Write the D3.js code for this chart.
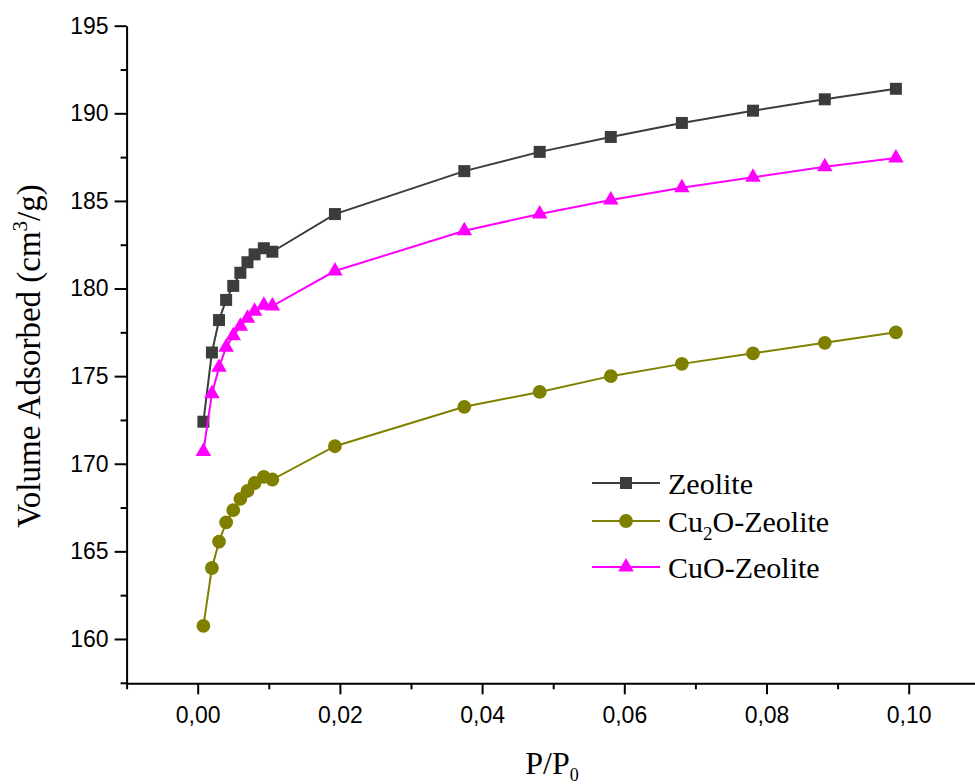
<!DOCTYPE html>
<html>
<head>
<meta charset="utf-8">
<script src="https://cdn.jsdelivr.net/npm/d3@7"></script>
<style>
  html, body { margin: 0; padding: 0; background: #fff; }
  svg { display: block; }
</style>
</head>
<body>
<div id="container"></div>
<script>
// data
const pressure = [0.0008, 0.002, 0.003, 0.004, 0.005, 0.006, 0.007, 0.008, 0.0093, 0.0105,
                  0.0193, 0.0375, 0.0481, 0.0581, 0.0681, 0.0781, 0.0882, 0.0982];
const zeolite = [172.4, 176.35, 178.2, 179.35, 180.15, 180.9, 181.5, 181.95, 182.3, 182.1,
                 184.25, 186.7, 187.8, 188.65, 189.45, 190.15, 190.8, 191.4];
const cu2oZeolite = [160.75, 164.05, 165.55, 166.65, 167.35, 168.0, 168.45, 168.9, 169.25, 169.1,
                     171.0, 173.25, 174.1, 175.0, 175.7, 176.3, 176.9, 177.5];
const cuoZeolite = [170.7, 174.0, 175.5, 176.65, 177.3, 177.85, 178.3, 178.7, 179.05, 179.0,
                    181.0, 183.3, 184.25, 185.05, 185.75, 186.35, 186.95, 187.45];
const seriesNames = ['Zeolite', 'Cu2O-Zeolite', 'CuO-Zeolite'];
const xTicks = [0, 0.02, 0.04, 0.06, 0.08, 0.10];
const yTicks = [160, 165, 170, 175, 180, 185, 190, 195];

const series = [
  { name: seriesNames[0], values: zeolite, color: '#3c3c3c', symbol: d3.symbolSquare, size: 144 },
  { name: seriesNames[1], values: cu2oZeolite, color: '#808000', symbol: d3.symbolCircle, size: 150 },
  { name: seriesNames[2], values: cuoZeolite, color: '#ff00ff', symbol: d3.symbolTriangle, size: 105 }
];

const width = 975;
const height = 784;

const svg = d3.select('#container')
  .append('svg')
  .attr('width', width)
  .attr('height', height);

// scales
const xScale = d3.scaleLinear()
  .domain([-0.01, 0.11])
  .range([126.6, 979.8]);

const yScale = d3.scaleLinear()
  .domain([157.47, 195])
  .range([683.3, 25.7]);

// comma decimal
const locale = d3.formatLocale({ decimal: ',', thousands: '.', grouping: [3], currency: ['', ''] });
const fmtX = locale.format('.2f');

// minor ticks
const xMinor = d3.range(-0.01, 0.111, 0.01).filter(v => !xTicks.some(t => Math.abs(t - v) < 1e-6));
const yMinor = d3.range(157.5, 195, 2.5).filter(v => v % 5 !== 0);

svg.append('g')
  .attr('transform', `translate(0, ${yScale.range()[0]})`)
  .call(d3.axisBottom(xScale).tickValues(xMinor).tickSize(6).tickFormat(''))
  .call(g => g.select('.domain').remove());

svg.append('g')
  .attr('transform', `translate(${xScale.range()[0]}, 0)`)
  .call(d3.axisLeft(yScale).tickValues(yMinor).tickSize(6).tickFormat(''))
  .call(g => g.select('.domain').remove());

const xAxis = svg.append('g')
  .attr('transform', `translate(0, ${yScale.range()[0]})`)
  .call(d3.axisBottom(xScale).tickValues(xTicks).tickSize(11).tickSizeOuter(0).tickPadding(12).tickFormat(fmtX));

const yAxis = svg.append('g')
  .attr('transform', `translate(${xScale.range()[0]}, 0)`)
  .call(d3.axisLeft(yScale).tickValues(yTicks).tickSize(12).tickSizeOuter(0).tickPadding(6));

svg.selectAll('.tick line, .domain')
  .attr('stroke', '#000')
  .attr('stroke-width', 2);

svg.selectAll('.tick text')
  .attr('font-family', 'Liberation Sans, Arial, sans-serif')
  .attr('font-size', 23)
  .attr('fill', '#000');

// lines and markers
const line = d3.line()
  .x((d, i) => xScale(pressure[i]))
  .y(d => yScale(d));

series.forEach(s => {
  svg.append('path')
    .datum(s.values)
    .attr('fill', 'none')
    .attr('stroke', s.color)
    .attr('stroke-width', 2)
    .attr('d', line);

  svg.append('g')
    .selectAll('path')
    .data(s.values)
    .join('path')
    .attr('transform', (d, i) => `translate(${xScale(pressure[i])}, ${yScale(d)})`)
    .attr('d', d3.symbol().type(s.symbol).size(s.size))
    .attr('fill', s.color);
});

// legend
const legend = svg.append('g')
  .attr('transform', 'translate(592, 483)');
const rowY = [0, 38, 84];

series.forEach((s, i) => {
  const row = legend.append('g').attr('transform', `translate(0, ${rowY[i]})`);
  row.append('line')
    .attr('x1', 0).attr('x2', 68)
    .attr('stroke', s.color)
    .attr('stroke-width', 2);
  row.append('path')
    .attr('transform', 'translate(34, 0)')
    .attr('d', d3.symbol().type(s.symbol).size(s.size))
    .attr('fill', s.color);
  const t = row.append('text')
    .attr('x', 76)
    .attr('y', 11)
    .attr('font-family', 'Liberation Serif, Times New Roman, serif')
    .attr('font-size', 30)
    .attr('fill', '#000');
  if (s.name === 'Cu2O-Zeolite') {
    t.append('tspan').text('Cu');
    t.append('tspan').attr('font-size', 19).attr('dy', 8).text('2');
    t.append('tspan').attr('dy', -8).text('O-Zeolite');
  } else {
    t.text(s.name);
  }
});

// axis titles
const yTitle = svg.append('text')
  .attr('transform', 'translate(40, 356) rotate(-90)')
  .attr('text-anchor', 'middle')
  .attr('font-family', 'Liberation Serif, Times New Roman, serif')
  .attr('font-size', 33)
  .attr('fill', '#000');
yTitle.append('tspan').text('Volume Adsorbed (cm');
yTitle.append('tspan').attr('font-size', 21).attr('dy', -13).text('3');
yTitle.append('tspan').attr('dy', 13).text('/g)');

const xTitle = svg.append('text')
  .attr('x', 552)
  .attr('y', 774)
  .attr('text-anchor', 'middle')
  .attr('font-family', 'Liberation Serif, Times New Roman, serif')
  .attr('font-size', 32)
  .attr('fill', '#000');
xTitle.append('tspan').text('P/P');
xTitle.append('tspan').attr('font-size', 18).attr('dy', 7).text('0');
</script>
</body>
</html>
